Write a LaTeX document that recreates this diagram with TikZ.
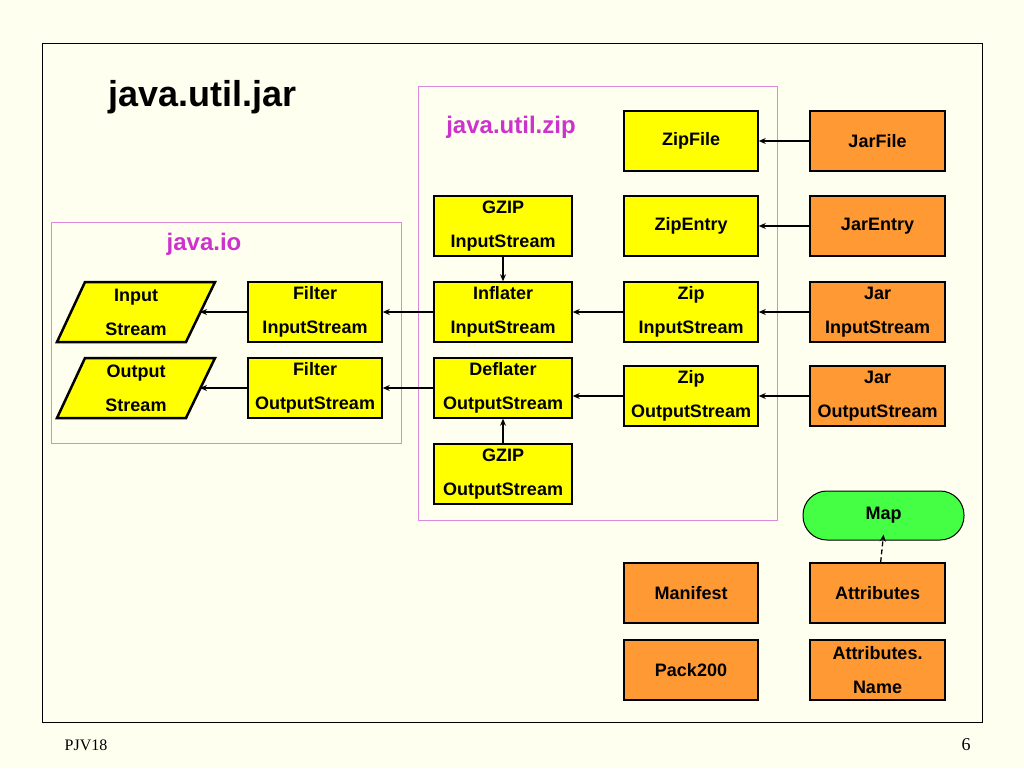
\documentclass[tikz,border=0pt]{standalone}
\usepackage{fontspec}
\setmainfont{Liberation Sans}
\newfontfamily\serifx{Liberation Serif}
\usetikzlibrary{arrows.meta}
\definecolor{bg}{HTML}{FFFFF0}
\definecolor{yel}{HTML}{FFFF00}
\definecolor{org}{HTML}{FF9933}
\definecolor{grn}{HTML}{44FF44}
\definecolor{pnk}{HTML}{DD88DD}
\definecolor{mag}{HTML}{CC33CC}
\begin{document}
\begin{tikzpicture}[x=1pt,y=-1pt,
  box/.style={draw=black,line width=1.5pt,minimum width=134pt,minimum height=60pt,inner sep=0pt,align=center,
     font=\fontsize{18}{34}\selectfont\bfseries},
  y box/.style={box,fill=yel},
  o box/.style={box,fill=org},
  arr/.style={-{Stealth[length=7pt,width=6pt]},line width=1.3pt},
  pbox/.style={draw=pnk,line width=1pt}]
\fill[bg] (0,0) rectangle (1024,768);
\useasboundingbox (0,0) rectangle (1024,768);
\draw[line width=1pt] (42,44) rectangle (982,722);
\draw[pbox] (418,86) rectangle (777,520);
\draw[pbox] (51,222) rectangle (401,443);
\node[font=\fontsize{36}{40}\selectfont\bfseries,anchor=west] (title) at (105,97) {java.util.jar};
\node[font=\fontsize{24}{28}\selectfont\bfseries,text=mag] (zipl) at (511,127) {java.util.zip};
\node[font=\fontsize{24}{28}\selectfont\bfseries,text=mag] (iol) at (204,244) {java.io};
\node[y box] (zipfile) at (691,141) {ZipFile};
\node[o box,minimum width=135pt] (jarfile) at (877.5,141) {JarFile};
\node[y box] (zipentry) at (691,226) {ZipEntry};
\node[o box,minimum width=135pt] (jarentry) at (877.5,226) {JarEntry};
\node[y box,minimum width=138pt] (gzin) at (503,226) {GZIP\\InputStream};
\node[y box,minimum width=138pt] (infl) at (503,312) {Inflater\\InputStream};
\node[y box] (zipin) at (691,312) {Zip\\InputStream};
\node[o box,minimum width=135pt] (jarin) at (877.5,312) {Jar\\InputStream};
\node[y box,minimum width=138pt] (defl) at (503,388) {Deflater\\OutputStream};
\node[y box] (zipout) at (691,396) {Zip\\OutputStream};
\node[o box,minimum width=135pt] (jarout) at (877.5,396) {Jar\\OutputStream};
\node[y box,minimum width=138pt] (gzout) at (503,474) {GZIP\\OutputStream};
\node[y box] (filin) at (315,312) {Filter\\InputStream};
\node[y box] (filout) at (315,388) {Filter\\OutputStream};
\filldraw[fill=yel,line width=2.5pt,line join=miter] (85,282) -- (215,282) -- (186,342) -- (57,342) -- cycle;
\filldraw[fill=yel,line width=2.5pt,line join=miter] (85,358) -- (215,358) -- (186,418) -- (57,418) -- cycle;
\node[inner sep=0pt,align=center,font=\fontsize{18}{34}\selectfont\bfseries] (instr) at (136,312) {Input\\Stream};
\node[inner sep=0pt,align=center,font=\fontsize{18}{34}\selectfont\bfseries] (outstr) at (136,388) {Output\\Stream};
\coordinate (inR) at (200,312);
\coordinate (outR) at (200,388);
\node[draw=black,fill=grn,line width=1pt,rounded corners=24pt,minimum width=161pt,minimum height=49pt,font=\fontsize{18}{22}\selectfont\bfseries] (map) at (883.5,515.5) {Map};
\node[o box] (manifest) at (691,593) {Manifest};
\node[o box,minimum width=135pt] (attr) at (877.5,593) {Attributes};
\node[o box] (pack) at (691,670) {Pack200};
\node[o box,minimum width=135pt] (attrn) at (877.5,670) {Attributes.\\Name};
\draw[arr] (jarfile) -- (zipfile);
\draw[arr] (jarentry) -- (zipentry);
\draw[arr] (jarin) -- (zipin);
\draw[arr] (jarout) -- (zipout);
\draw[arr] (zipin) -- (infl);
\draw[arr] (zipout.west) -- (defl.east |- zipout.west);
\draw[arr] (infl) -- (filin);
\draw[arr] (defl) -- (filout);
\draw[arr] (filin) -- (inR);
\draw[arr] (filout) -- (outR);
\draw[arr] (gzin) -- (infl);
\draw[arr] (gzout) -- (defl);
\draw[arr,dash pattern=on 5pt off 3pt] (attr) -- ([yshift=6pt]map.south);
\node[font=\serifx\fontsize{16}{18}\selectfont] (foot) at (86,745) {PJV18};
\node[font=\serifx\fontsize{18}{20}\selectfont] (pg) at (966,745) {6};
\end{tikzpicture}
\end{document}
